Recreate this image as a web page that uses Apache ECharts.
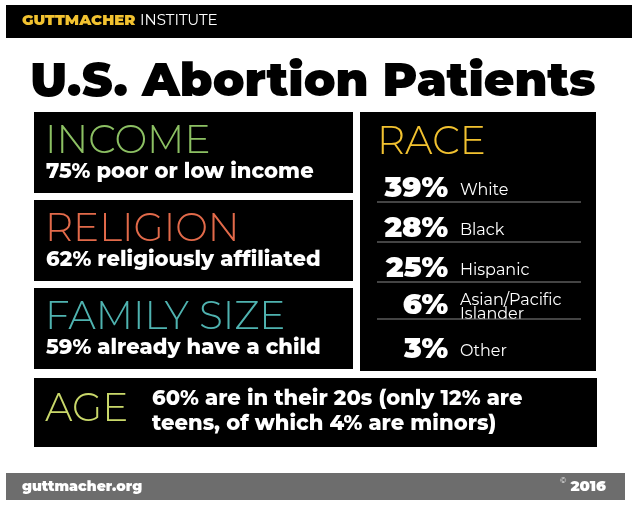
<!DOCTYPE html>
<html><head><meta charset="utf-8">
<script src="https://cdn.jsdelivr.net/npm/echarts@6/dist/echarts.min.js"></script>
<style>html,body{margin:0;padding:0;background:#fff}#c{width:640px;height:509px}</style>
</head><body><div id="c"></div>
<script>
var raceValues = [39, 28, 25, 6, 3];
var raceNames = ['White', 'Black', 'Hispanic', 'Asian/Pacific\nIslander', 'Other'];
var panelTitles = ['INCOME', 'RELIGION', 'FAMILY SIZE'];
var panelColors = ['#8cc063', '#e26a4a', '#4fb3b0'];
var panelTexts = ['75% poor or low income', '62% religiously affiliated', '59% already have a child'];
var ageText = '60% are in their 20s (only 12% are\nteens, of which 4% are minors)';

var chart = echarts.init(document.getElementById('c'));
var FONT = 'Montserrat, "Open Sans", sans-serif';
var g = [];
function rect(x, y, w, h, fill) {
    g.push({type: 'rect', shape: {x: x, y: y, width: w, height: h}, style: {fill: fill}});
}
function text(x, y, t, size, color, weight, align, extra) {
    var s = {text: t, x: x, y: y, fill: color, fontSize: size, fontWeight: weight || 'normal',
        fontFamily: FONT, textAlign: align || 'left', textVerticalAlign: 'middle'};
    if (extra) for (var k in extra) s[k] = extra[k];
    g.push({type: 'text', style: s});
}

// header
rect(6, 5, 626, 33, '#000');
text(22, 21, 'GUTTMACHER', 15, '#f2c230', 900);
text(140, 21, 'INSTITUTE', 15, '#fff', 'normal');
text(313, 82, 'U.S. Abortion Patients', 47, '#000', 900, 'center');

// left panels
var tops = [112, 200, 288];
for (var i = 0; i < 3; i++) {
    rect(34, tops[i], 319, 81, '#000');
    text(45, tops[i] + 30, panelTitles[i], 39, panelColors[i], 300);
    text(46, tops[i] + 60, panelTexts[i], 21, '#fff', 800);
}

// race panel
rect(360, 112, 236, 259, '#000');
text(377, 143, 'RACE', 39, '#f2c230', 300);
var rowY = [188, 228, 268, 305, 349];
for (var j = 0; j < raceValues.length; j++) {
    text(448, rowY[j], raceValues[j] + '%', 29, '#fff', 900, 'right');
    text(460, rowY[j] + 2, raceNames[j], 16, '#fff', 'normal', 'left', {lineHeight: 14});
    if (j < raceValues.length - 1) {
        g.push({type: 'line', shape: {x1: 377, y1: rowY[j] + 14, x2: 581, y2: rowY[j] + 14},
            style: {stroke: '#888', lineWidth: 1}});
    }
}

// age panel
rect(34, 378, 563, 69, '#000');
text(45, 410, 'AGE', 39, '#c9d86a', 300);
text(152, 411, ageText, 21, '#fff', 800, 'left', {lineHeight: 25});

// footer
rect(6, 473, 619, 27, '#6d6d6d');
text(22, 487, 'guttmacher.org', 14, '#fff', 900);
text(606, 487, '2016', 15, '#fff', 900, 'right');
text(560, 481, '©', 8, '#fff', 'normal');

chart.setOption({graphic: g});
</script></body></html>
